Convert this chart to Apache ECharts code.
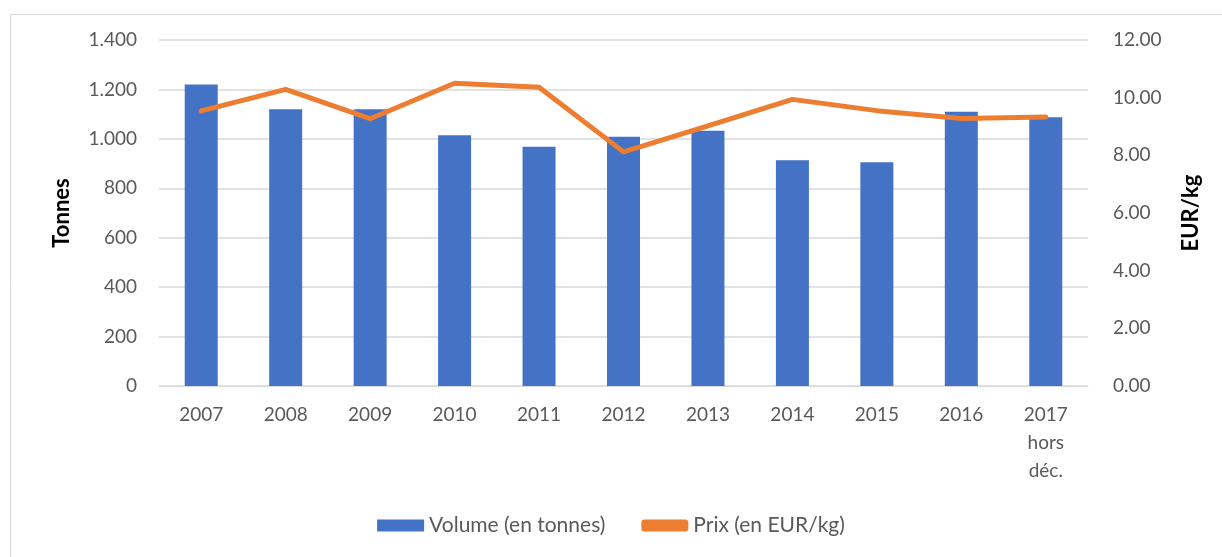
<!DOCTYPE html>
<html>
<head>
<meta charset="utf-8">
<script src="https://cdn.jsdelivr.net/npm/echarts@6/dist/echarts.min.js"></script>
<style>
  html, body { margin: 0; padding: 0; background: #fff; }
  #chart { width: 1222px; height: 557px; }
</style>
</head>
<body>
<div id="chart"></div>
<script>
var years = ['2007', '2008', '2009', '2010', '2011', '2012', '2013', '2014', '2015', '2016', '2017\nhors\ndéc.'];
var volume = [1220, 1120, 1120, 1015, 968, 1009, 1033, 913, 905, 1110, 1087];
var prix = [9.54, 10.29, 9.27, 10.5, 10.36, 8.12, 9.02, 9.94, 9.55, 9.28, 9.33];

var myChart = echarts.init(document.getElementById('chart'));
var font = 'Lato, "Open Sans", sans-serif';

myChart.setOption({
  animation: false,
  textStyle: { fontFamily: font },
  graphic: [{
    type: 'rect',
    shape: { x: 10.5, y: 14.5, width: 1230, height: 560 },
    style: { fill: 'none', stroke: '#d9d9d9', lineWidth: 1 }
  }],
  grid: { left: 159, right: 134, top: 40, bottom: 171 },
  legend: {
    bottom: 16,
    left: 'center',
    itemGap: 36,
    textStyle: { color: '#595959', fontSize: 21, fontFamily: font },
    data: [
      { name: 'Volume (en tonnes)', icon: 'rect', itemStyle: { color: '#4472c4' } },
      { name: 'Prix (en EUR/kg)', icon: 'roundRect' }
    ],
    itemWidth: 47,
    itemHeight: 12
  },
  xAxis: {
    type: 'category',
    data: years,
    axisTick: { show: false },
    axisLine: { lineStyle: { color: '#d9d9d9', width: 1 } },
    axisLabel: { color: '#595959', fontSize: 19, margin: 15, lineHeight: 28, interval: 0 }
  },
  yAxis: [{
    type: 'value',
    min: 0, max: 1400, interval: 200,
    name: 'Tonnes',
    nameLocation: 'middle',
    nameGap: 86,
    nameRotate: 90,
    nameTextStyle: { color: '#000', fontWeight: 'bold', fontSize: 22 },
    axisLabel: {
      color: '#595959', fontSize: 19, margin: 22,
      formatter: function (v) { return v >= 1000 ? (v / 1000).toFixed(3) : String(v); }
    },
    axisLine: { show: false },
    axisTick: { show: false },
    splitLine: { lineStyle: { color: '#d9d9d9', width: 1.5 } }
  }, {
    type: 'value',
    min: 0, max: 12, interval: 2,
    name: 'EUR/kg',
    nameLocation: 'middle',
    nameGap: 92,
    nameRotate: 90,
    nameTextStyle: { color: '#000', fontWeight: 'bold', fontSize: 22 },
    axisLabel: {
      color: '#595959', fontSize: 19, margin: 25,
      formatter: function (v) { return v.toFixed(2); }
    },
    axisLine: { show: false },
    axisTick: { show: false },
    splitLine: { show: false }
  }],
  series: [{
    name: 'Volume (en tonnes)',
    type: 'bar',
    data: volume,
    barWidth: 33,
    itemStyle: { color: '#4472c4' }
  }, {
    name: 'Prix (en EUR/kg)',
    type: 'line',
    yAxisIndex: 1,
    data: prix,
    symbol: 'none',
    lineStyle: { color: '#ed7d31', width: 5, cap: 'round', join: 'round' },
    itemStyle: { color: '#ed7d31' }
  }]
});
</script>
</body>
</html>
